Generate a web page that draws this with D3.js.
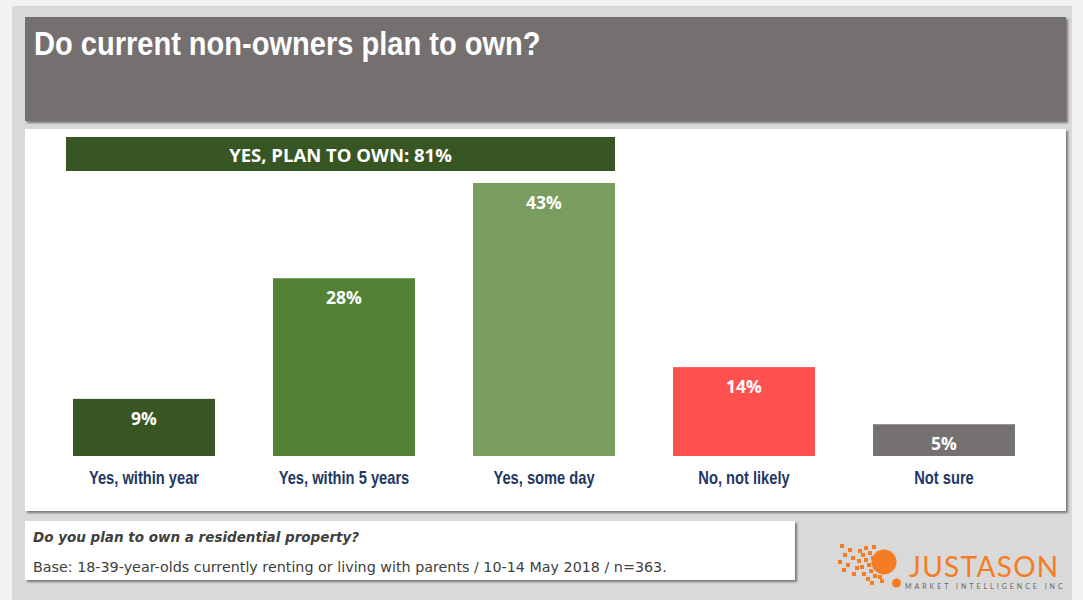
<!DOCTYPE html>
<html>
<head>
<meta charset="utf-8">
<script src="https://cdn.jsdelivr.net/npm/d3@7"></script>
<style>
  html, body { margin: 0; padding: 0; background: #f2f2f2; }
  svg { display: block; }
</style>
</head>
<body>
<svg id="chart" width="1083" height="600"></svg>
<script>
// Survey results: plans to own a residential property
const categories = ["Yes, within year", "Yes, within 5 years", "Yes, some day", "No, not likely", "Not sure"];
const values = [9, 28, 43, 14, 5];
const barColors = ["#375623", "#548235", "#789d5f", "#ff5050", "#767171"];
const totalLabel = "YES, PLAN TO OWN: 81%";
const yesGroup = ["Yes, within year", "Yes, within 5 years", "Yes, some day"];
const titleText = "Do current non-owners plan to own?";
const questionText = "Do you plan to own a residential property?";
const baseText = "Base: 18-39-year-olds currently renting or living with parents / 10-14 May 2018 / n=363.";

const svg = d3.select("#chart");
// condensed sans for headings (horizontal squeeze of the regular face)
const narrowFamily = "'Liberation Sans', Arial, sans-serif";

const defs = svg.append("defs");
const shadow = defs.append("filter").attr("id", "shadow")
  .attr("x", "-5%").attr("y", "-20%").attr("width", "110%").attr("height", "140%");
shadow.append("feDropShadow").attr("dx", 2).attr("dy", 2).attr("stdDeviation", 1.2)
  .attr("flood-color", "#000").attr("flood-opacity", 0.45);

// slide background
svg.append("rect").attr("x", 12).attr("y", 6).attr("width", 1060).attr("height", 594).attr("fill", "#d9d9d9");

// title box
svg.append("rect").attr("x", 25).attr("y", 17).attr("width", 1041).attr("height", 104)
  .attr("fill", "#757070").attr("filter", "url(#shadow)");
svg.append("text")
  .attr("transform", "translate(34,54.5) scale(0.88,1)")
  .attr("font-family", narrowFamily)
  .attr("font-weight", "bold").attr("font-size", 33).attr("fill", "#ffffff")
  .text(titleText);

// chart panel
svg.append("rect").attr("x", 25).attr("y", 129).attr("width", 1041).attr("height", 382)
  .attr("fill", "#ffffff").attr("filter", "url(#shadow)");

// scales
const x = d3.scaleBand().domain(categories).range([44, 1044]).paddingInner(0.29).paddingOuter(0.145);
const y = d3.scaleLinear().domain([0, 43]).range([456, 183]);

// bars
const g = svg.append("g");
g.selectAll("rect.bar").data(categories).join("rect")
  .attr("class", "bar")
  .attr("x", d => x(d))
  .attr("y", (d, i) => y(values[i]))
  .attr("width", x.bandwidth())
  .attr("height", (d, i) => y(0) - y(values[i]))
  .attr("fill", (d, i) => barColors[i]);

// value labels inside bars
g.selectAll("text.val").data(categories).join("text")
  .attr("class", "val")
  .attr("x", d => x(d) + x.bandwidth() / 2)
  .attr("y", (d, i) => y(values[i]) + 26)
  .attr("text-anchor", "middle")
  .attr("font-family", "'Open Sans', 'DejaVu Sans', sans-serif")
  .attr("font-weight", "bold").attr("font-size", 17.5).attr("fill", "#ffffff")
  .text((d, i) => values[i] + "%");

// category axis labels
const xAxis = d3.axisBottom(x).tickSize(0).tickPadding(0);
const ax = svg.append("g").attr("transform", `translate(0, ${y(0) + 28})`).call(xAxis);
ax.select(".domain").remove();
ax.selectAll("text")
  .attr("font-family", narrowFamily)
  .attr("font-weight", "bold").attr("font-size", 17.7).attr("fill", "#1f3864")
  .attr("y", 0).attr("dy", 0)
  .attr("transform", "scale(0.83,1)");

// group banner spanning the "yes" answers
const bx0 = x(yesGroup[0]) - 7;
const bx1 = x(yesGroup[yesGroup.length - 1]) + x.bandwidth();
svg.append("rect").attr("x", bx0).attr("y", 137).attr("width", bx1 - bx0).attr("height", 34).attr("fill", "#375623");
svg.append("text").attr("x", (bx0 + bx1) / 2).attr("y", 161.5)
  .attr("text-anchor", "middle")
  .attr("font-family", "'Open Sans', 'DejaVu Sans', sans-serif")
  .attr("font-weight", "bold").attr("font-size", 18.5).attr("fill", "#ffffff")
  .text(totalLabel);

// footnote box
svg.append("rect").attr("x", 25).attr("y", 521).attr("width", 770).attr("height", 59)
  .attr("fill", "#ffffff").attr("filter", "url(#shadow)");
svg.append("text").attr("x", 33).attr("y", 542)
  .attr("font-family", "'DejaVu Sans', sans-serif")
  .attr("font-style", "italic").attr("font-weight", "bold").attr("font-size", 13.5).attr("fill", "#404040")
  .text(questionText);
svg.append("text").attr("x", 33).attr("y", 572)
  .attr("font-family", "'DejaVu Sans', sans-serif")
  .attr("font-size", 14.3).attr("fill", "#404040")
  .text(baseText);

// company logo
const logo = svg.append("g");
const orange = "#f57c22";
logo.append("circle").attr("cx", 884).attr("cy", 562).attr("r", 12.5).attr("fill", orange);
logo.append("circle").attr("cx", 896.5).attr("cy", 583).attr("r", 4.5).attr("fill", orange);
const pix = [
  [840, 544], [848, 548], [843, 553], [851, 556], [838, 560], [846, 563], [855, 566], [842, 568],
  [858, 549], [864, 546], [861, 553], [868, 551], [857, 559], [864, 558], [871, 556], [860, 565],
  [867, 563], [874, 561], [852, 572], [862, 572], [869, 569], [876, 567], [866, 577], [873, 574],
  [872, 545], [870, 581], [878, 575], [880, 579]
];
logo.selectAll("rect.px").data(pix).join("rect")
  .attr("x", d => d[0]).attr("y", d => d[1])
  .attr("width", 4).attr("height", 4).attr("fill", orange);
logo.append("text").attr("x", 909).attr("y", 577)
  .attr("font-family", "Lato, 'Open Sans', sans-serif").attr("font-weight", 400)
  .attr("font-size", 28).attr("fill", orange).attr("letter-spacing", 1.3)
  .text("JUSTASON");
logo.append("text").attr("x", 905).attr("y", 589)
  .attr("font-family", "Lato, 'Open Sans', sans-serif")
  .attr("font-size", 7).attr("fill", "#666666").attr("letter-spacing", 3.0)
  .text("MARKET INTELLIGENCE INC");
</script>
</body>
</html>
